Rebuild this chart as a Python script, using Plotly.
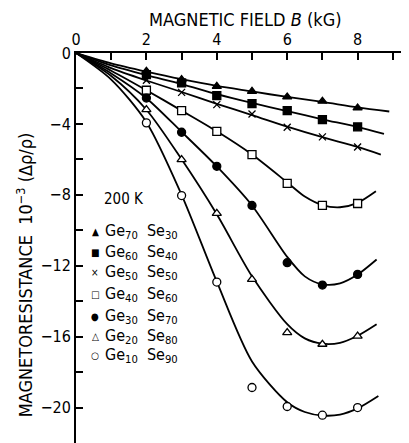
import plotly.graph_objects as go

# ---------------- data ----------------
field_pts = [2, 3, 4, 5, 6, 7, 8]

ge70_pts = [-1.03, -1.50, -1.88, -2.16, -2.48, -2.72, -3.10]
ge60_pts = [-1.22, -1.69, -2.40, -2.86, -3.25, -3.76, -4.17]
ge50_pts = [-1.54, -2.22, -2.91, -3.44, -4.19, -4.73, -5.30]
ge40_pts = [-2.10, -3.25, -4.42, -5.73, -7.36, -8.60, -8.49]
ge30_pts = [-2.54, -4.47, -6.39, -8.60, -11.83, -13.09, -12.49]
ge20_pts = [-3.19, -6.01, -9.05, -12.77, -15.77, -16.43, -15.97]
ge10_pts = [-3.94, -8.04, -12.92, -18.87, -19.94, -20.43, -20.00]

# fitted curves
ge70_cx = [0, 1, 2, 3, 4, 5, 6, 7, 8, 8.9]
ge70_cy = [0, -0.58, -1.05, -1.48, -1.86, -2.17, -2.48, -2.76, -3.07, -3.30]
ge60_cx = [0, 1, 2, 3, 4, 5, 6, 7, 8, 8.75]
ge60_cy = [0, -0.70, -1.25, -1.75, -2.32, -2.82, -3.28, -3.74, -4.18, -4.56]
ge50_cx = [0, 1, 2, 3, 4, 5, 6, 7, 8, 8.66]
ge50_cy = [0, -0.85, -1.55, -2.20, -2.87, -3.50, -4.15, -4.75, -5.30, -5.73]
ge40_cx = [0, 1, 2, 3, 4, 5, 6, 6.5, 7, 7.5, 8, 8.52]
ge40_cy = [0, -1.00, -2.10, -3.25, -4.42, -5.73, -7.30, -8.10, -8.58, -8.70, -8.45, -7.80]
ge30_cx = [0, 1, 2, 3, 4, 5, 6, 6.5, 7, 7.5, 8, 8.54]
ge30_cy = [0, -1.15, -2.55, -4.45, -6.40, -8.60, -11.50, -12.60, -13.05, -13.00, -12.50, -11.65]
ge20_cx = [0, 1, 2, 3, 4, 5, 6, 6.5, 7, 7.5, 8, 8.54]
ge20_cy = [0, -1.30, -3.20, -6.00, -9.10, -12.60, -15.30, -16.10, -16.40, -16.35, -15.95, -15.30]
ge10_cx = [0, 1, 2, 3, 4, 5, 6, 6.5, 7, 7.5, 8, 8.59]
ge10_cy = [0, -1.50, -3.90, -8.00, -12.90, -17.40, -19.70, -20.25, -20.45, -20.40, -20.05, -19.35]

legend_labels = [
    "Ge<sub>70</sub>  Se<sub>30</sub>",
    "Ge<sub>60</sub>  Se<sub>40</sub>",
    "Ge<sub>50</sub>  Se<sub>50</sub>",
    "Ge<sub>40</sub>  Se<sub>60</sub>",
    "Ge<sub>30</sub>  Se<sub>70</sub>",
    "Ge<sub>20</sub>  Se<sub>80</sub>",
    "Ge<sub>10</sub>  Se<sub>90</sub>",
]
legend_glyphs = ["\u25B2", "\u25A0", "\u00D7", "\u25A1", "\u25CF", "\u25B3", "\u25CB"]
legend_y = [-10.07, -11.23, -12.36, -13.62, -14.85, -16.0, -17.05]

series = [
    (ge70_cx, ge70_cy, ge70_pts, "triangle-up", "black"),
    (ge60_cx, ge60_cy, ge60_pts, "square", "black"),
    (ge50_cx, ge50_cy, ge50_pts, "x-thin", "black"),
    (ge40_cx, ge40_cy, ge40_pts, "square", "white"),
    (ge30_cx, ge30_cy, ge30_pts, "circle", "black"),
    (ge20_cx, ge20_cy, ge20_pts, "triangle-up", "white"),
    (ge10_cx, ge10_cy, ge10_pts, "circle", "white"),
]

FONT = "DejaVu Sans Condensed, DejaVu Sans"

fig = go.Figure()
for cx, cy, pts, sym, col in series:
    fig.add_trace(go.Scatter(x=cx, y=cy, mode="lines",
                             line=dict(color="black", width=1.8, shape="spline", smoothing=0.8),
                             showlegend=False, hoverinfo="skip"))
for cx, cy, pts, sym, col in series:
    fig.add_trace(go.Scatter(x=field_pts, y=pts, mode="markers",
                             marker=dict(symbol=sym, size=8 if sym != "x-thin" else 7,
                                         color=col,
                                         line=dict(color="black", width=1.3)),
                             showlegend=False))

annotations = []
annotations.append(dict(x=0.75, y=-8.26, xref="x", yref="y", text="200 K",
                        showarrow=False, xanchor="left", yanchor="middle",
                        font=dict(family=FONT, size=15, color="black")))
for lab, gl, yy in zip(legend_labels, legend_glyphs, legend_y):
    annotations.append(dict(x=0.55, y=yy, xref="x", yref="y", text=gl,
                            showarrow=False, xanchor="center", yanchor="middle",
                            font=dict(family=FONT, size=10, color="black")))
    annotations.append(dict(x=0.78, y=yy, xref="x", yref="y", text=lab,
                            showarrow=False, xanchor="left", yanchor="middle",
                            font=dict(family=FONT, size=16, color="black")))

annotations.append(dict(x=0.508, y=1.087, xref="paper", yref="paper",
                        text="MAGNETIC FIELD <i>B</i> (kG)", showarrow=False,
                        xanchor="center", yanchor="middle",
                        font=dict(family=FONT, size=18, color="black")))
annotations.append(dict(x=-0.153, y=0.43, xref="paper", yref="paper",
                        text="MAGNETORESISTANCE  10<sup>\u22123</sup> (\u0394\u03C1/\u03C1)",
                        showarrow=False, textangle=-90, xanchor="center", yanchor="middle",
                        font=dict(family=FONT, size=18, color="black")))

# the page body adds an 8 px offset, so the figure is sized and placed to compensate
fig.update_layout(
    width=401, height=435,
    margin=dict(l=68, r=0, t=45, b=0, pad=0, autoexpand=False),
    paper_bgcolor="white", plot_bgcolor="white",
    font=dict(family=FONT, size=15, color="black"),
    annotations=annotations,
)
fig.update_xaxes(range=[0, 9.46], side="top", showline=True, linecolor="black", linewidth=2,
                 automargin=False,
                 showgrid=False, zeroline=False, ticks="inside", tickcolor="black",
                 ticklen=7, tickwidth=1.5, dtick=2, tick0=0,
                 minor=dict(dtick=1, ticks="inside", ticklen=7, tickcolor="black", tickwidth=1.5, showgrid=False),
                 tickfont=dict(family=FONT, size=16, color="black"))
fig.update_yaxes(range=[-22, 0], showline=True, linecolor="black", linewidth=2,
                 automargin=False,
                 showgrid=False, zeroline=False, ticks="inside", tickcolor="black",
                 ticklen=7, tickwidth=1.5, dtick=4, tick0=0,
                 minor=dict(dtick=2, ticks="inside", ticklen=7, tickcolor="black", tickwidth=1.5, showgrid=False),
                 tickfont=dict(family=FONT, size=16, color="black"))

fig.write_html("out.html")
